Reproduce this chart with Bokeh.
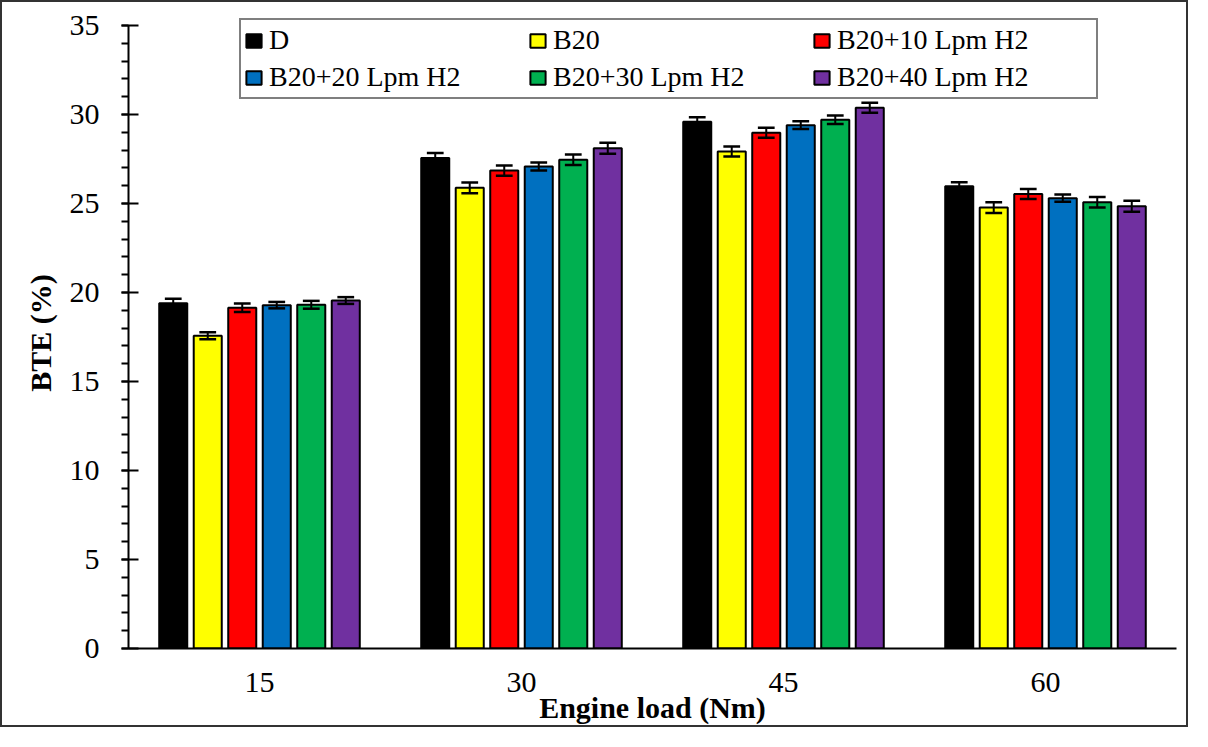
from bokeh.plotting import figure
from bokeh.models import (FactorRange, Range1d, SingleIntervalTicker, Legend, LegendItem,
                          ColumnDataSource)
from bokeh.transform import dodge
from bokeh.embed import file_html
from bokeh.resources import INLINE

# ---- data ----
loads = ["15", "30", "45", "60"]
series_names = ["D", "B20", "B20+10 Lpm H2", "B20+20 Lpm H2", "B20+30 Lpm H2", "B20+40 Lpm H2"]

bte_D = [19.40, 27.56, 29.59, 25.97]
bte_B20 = [17.57, 25.88, 27.92, 24.77]
bte_B20_10 = [19.14, 26.85, 28.98, 25.53]
bte_B20_20 = [19.29, 27.08, 29.40, 25.30]
bte_B20_30 = [19.31, 27.46, 29.70, 25.07]
bte_B20_40 = [19.55, 28.11, 30.38, 24.84]

err_D = [0.25, 0.28, 0.26, 0.22]
err_B20 = [0.20, 0.30, 0.28, 0.30]
err_B20_10 = [0.24, 0.29, 0.28, 0.28]
err_B20_20 = [0.18, 0.22, 0.22, 0.20]
err_B20_30 = [0.22, 0.29, 0.24, 0.29]
err_B20_40 = [0.19, 0.31, 0.28, 0.31]

colors = ["#000000", "#FFFF00", "#FF0000", "#0070C0", "#00B050", "#7030A0"]

values = [bte_D, bte_B20, bte_B20_10, bte_B20_20, bte_B20_30, bte_B20_40]
errors = [err_D, err_B20, err_B20_10, err_B20_20, err_B20_30, err_B20_40]

FONT = "Liberation Serif"

W, H = 1188, 727
p = figure(
    x_range=FactorRange(factors=loads, range_padding=0),
    y_range=Range1d(0, 35.45),
    width=W, height=H,
    min_border_left=126, min_border_right=14, min_border_top=15, min_border_bottom=81,
    output_backend="svg", toolbar_location=None,
)
p.styles = {"border": "2px solid #333333"}
p.outline_line_color = None
p.xgrid.grid_line_color = None
p.ygrid.grid_line_color = None
p.background_fill_color = "white"
p.border_fill_color = "white"

step = 0.1317
bar_w = 0.107
cap = 0.032
items = []
for j, (name, vals, errs, col) in enumerate(zip(series_names, values, errors, colors)):
    off = (j - 2.5) * step
    src = ColumnDataSource(dict(
        load=loads, bte=vals,
        lo=[v - e for v, e in zip(vals, errs)],
        hi=[v + e for v, e in zip(vals, errs)],
    ))
    r = p.vbar(x=dodge("load", off, range=p.x_range), top="bte", width=bar_w, source=src,
               fill_color=col, line_color="black", line_width=2)
    p.segment(x0=dodge("load", off, range=p.x_range), x1=dodge("load", off, range=p.x_range),
              y0="lo", y1="hi", source=src, line_color="black", line_width=2)
    p.segment(x0=dodge("load", off - cap, range=p.x_range), x1=dodge("load", off + cap, range=p.x_range),
              y0="hi", y1="hi", source=src, line_color="black", line_width=2.5)
    p.segment(x0=dodge("load", off - cap, range=p.x_range), x1=dodge("load", off + cap, range=p.x_range),
              y0="lo", y1="lo", source=src, line_color="black", line_width=2.5)
    items.append(LegendItem(label=name, renderers=[r]))

# axes
p.yaxis.ticker = SingleIntervalTicker(interval=5, num_minor_ticks=5)
p.yaxis.bounds = (0, 35)
for ax in (p.xaxis[0], p.yaxis[0]):
    ax.axis_line_width = 2
    ax.axis_line_color = "black"
    ax.major_label_text_font = FONT
    ax.major_label_text_font_style = "normal"
    ax.major_label_text_font_size = "30px"
    ax.major_label_text_color = "black"
    ax.axis_label_text_font = FONT
    ax.axis_label_text_font_size = "30px"
    ax.axis_label_text_font_style = "bold"
    ax.axis_label_text_color = "black"

p.xaxis.axis_label = "Engine load (Nm)"
p.xaxis.major_tick_in = 0
p.xaxis.major_tick_out = 0
p.xaxis.minor_tick_line_color = None
p.xaxis.major_label_standoff = 24
p.xaxis.axis_label_standoff = -4

p.yaxis.axis_label = "BTE (%)"
p.yaxis.major_tick_in = 10
p.yaxis.major_tick_out = 7
p.yaxis.minor_tick_in = 0
p.yaxis.minor_tick_out = 7
p.yaxis.major_tick_line_width = 2
p.yaxis.minor_tick_line_width = 2
p.yaxis.major_tick_line_color = "black"
p.yaxis.minor_tick_line_color = "black"
p.yaxis.major_label_standoff = 22
p.yaxis.axis_label_standoff = 10

legend = Legend(
    items=items, location=(111, 549), orientation="horizontal", ncols=3,
    label_text_font=FONT, label_text_font_size="28px", label_text_color="black",
    label_text_font_style="normal",
    glyph_width=19, glyph_height=17, label_standoff=6, label_width=256, label_height=34,
    spacing=3, padding=3, margin=0,
    border_line_color="black", border_line_width=2,
    background_fill_color="white", background_fill_alpha=1.0,
)
p.add_layout(legend)

open("out.html", "w").write(file_html(p, INLINE))
